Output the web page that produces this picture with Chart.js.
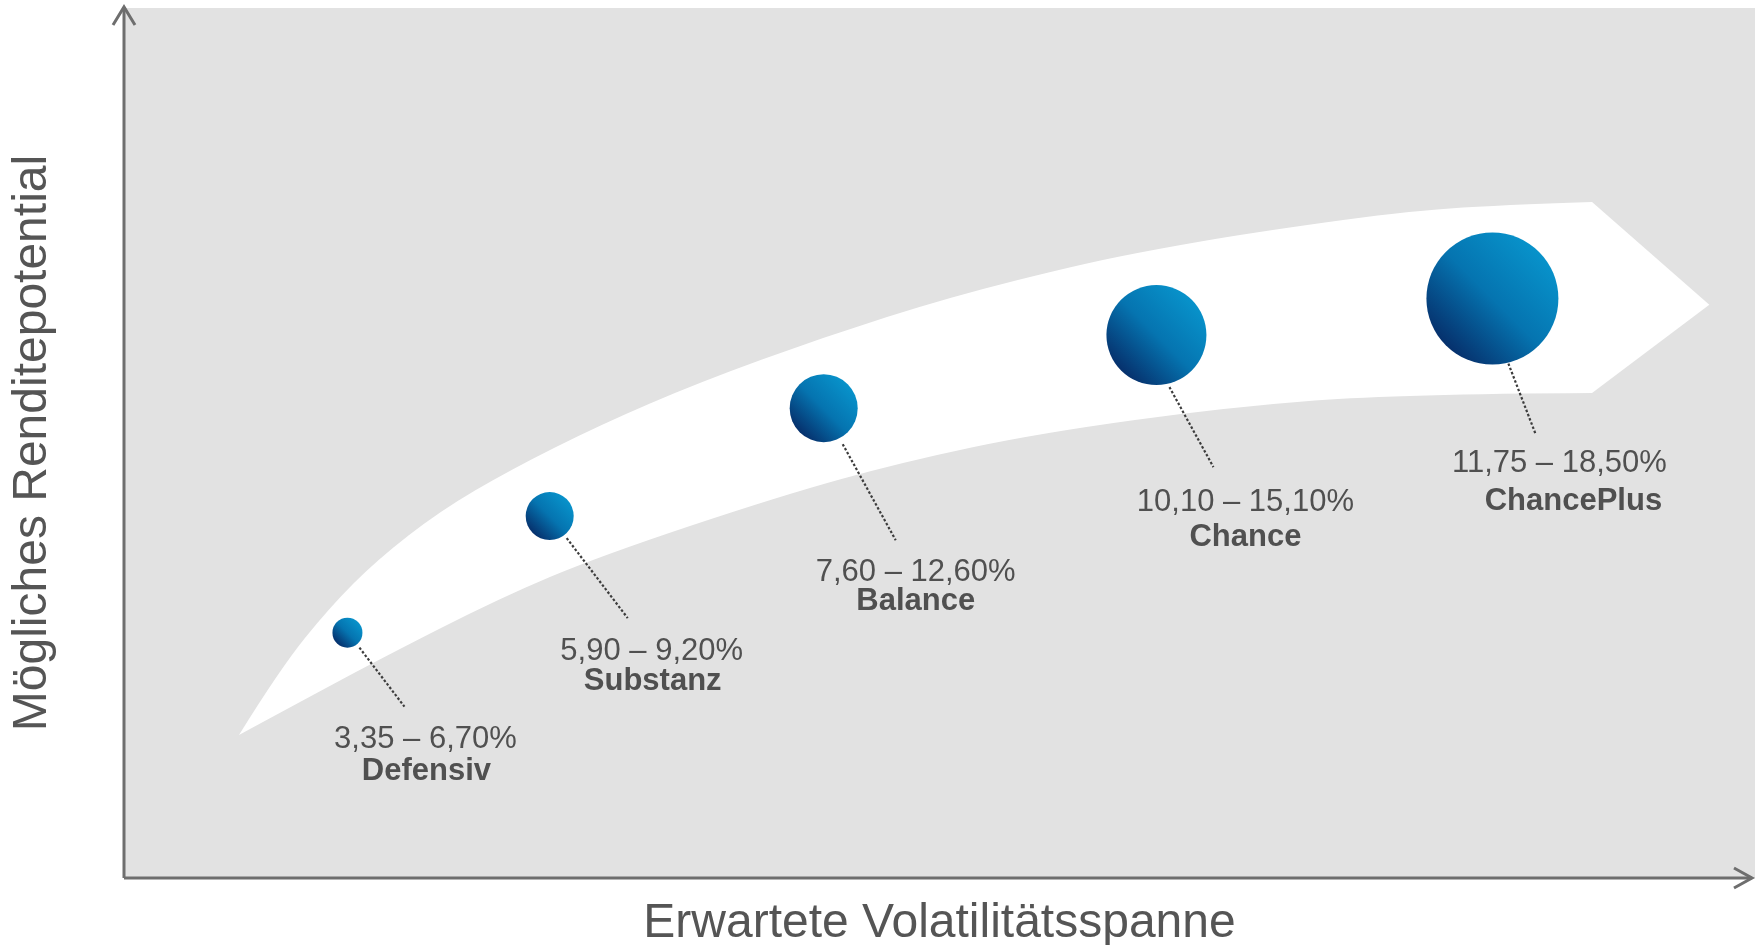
<!DOCTYPE html>
<html>
<head>
<meta charset="utf-8">
<script src="https://cdn.jsdelivr.net/npm/chart.js@4/dist/chart.umd.min.js"></script>
<style>
  html, body { margin: 0; padding: 0; background: #fff; }
  #wrap { width: 1760px; height: 945px; }
</style>
</head>
<body>
<div id="wrap"><canvas id="riskChart" width="1760" height="945"></canvas></div>
<script>
// data
const categories = ['Defensiv', 'Substanz', 'Balance', 'Chance', 'ChancePlus'];
const returnRanges = ['3,35 – 6,70%', '5,90 – 9,20%', '7,60 – 12,60%', '10,10 – 15,10%', '11,75 – 18,50%'];
const volatility = [13.7, 26.1, 42.9, 63.3, 83.9];
const potential = [28.2, 41.6, 54.0, 62.4, 66.6];
const bubbleSize = [15, 24, 34, 50, 66];

// white arrow band behind the bubbles, in axis units
const bandUpper = [[7.05, 16.44], [9.56, 24.02], [12.63, 31.15], [15.51, 36.55], [19.37, 42.18],
  [23.67, 46.9], [29.18, 52.07], [35.32, 57.01], [42.92, 62.18], [50.64, 66.78], [58.61, 70.52],
  [63.34, 72.3], [69.04, 74.14], [78.23, 76.55], [84.37, 77.36], [90.01, 77.7]];
const bandTip = [97.2, 65.9];
const bandLower = [[90.01, 55.75], [78.23, 55.63], [67.81, 54.14], [56.16, 51.15], [47.76, 47.82],
  [40.22, 43.91], [29.18, 37.01], [23.05, 32.18], [15.7, 25.17], [10.79, 20.23], [7.05, 16.44]];

// label placement relative to bubble centre (px): [rangeX, rangeY, nameX, nameY]
const labelPos = [[78, 115, 79, 147], [102, 144, 103, 174], [92, 173, 92, 202], [89, 176, 89, 211], [67, 173, 81, 211]];
// dotted leader start/end relative to bubble centre (px)
const leaderPos = [[12, 15, 57, 74], [17, 22, 78, 102], [19, 36, 72, 132], [13, 52, 57, 132], [16, 65, 43, 135]];

const textGray = '#505050';
const axisGray = '#6e6e6e';
const fontFam = '"Liberation Sans", Arial, sans-serif';

const bubbleData = categories.map((c, i) => ({ x: volatility[i], y: potential[i], r: bubbleSize[i] }));

function smoothTo(ctx, pts) {
  for (let i = 1; i < pts.length - 1; i++) {
    const mx = (pts[i][0] + pts[i + 1][0]) / 2;
    const my = (pts[i][1] + pts[i + 1][1]) / 2;
    if (i === pts.length - 2) ctx.quadraticCurveTo(pts[i][0], pts[i][1], pts[i + 1][0], pts[i + 1][1]);
    else ctx.quadraticCurveTo(pts[i][0], pts[i][1], mx, my);
  }
}

function bubbleGradient(ctx, cx, cy, r) {
  const d = r * 0.72;
  const g = ctx.createLinearGradient(cx - d, cy + d, cx + d, cy - d);
  g.addColorStop(0, '#062f6b');
  g.addColorStop(0.5, '#0574b0');
  g.addColorStop(1, '#0893cb');
  return g;
}

const backdrop = {
  id: 'backdrop',
  beforeDatasetsDraw(chart) {
    const { ctx, chartArea: a, scales: { x, y } } = chart;
    ctx.save();
    ctx.fillStyle = '#e2e2e2';
    ctx.fillRect(a.left, a.top, a.right - a.left, a.bottom - a.top);

    const px = p => [x.getPixelForValue(p[0]), y.getPixelForValue(p[1])];
    const up = bandUpper.map(px);
    const low = bandLower.map(px);
    const tip = px(bandTip);
    ctx.beginPath();
    ctx.moveTo(up[0][0], up[0][1]);
    smoothTo(ctx, up);
    ctx.lineTo(tip[0], tip[1]);
    ctx.lineTo(low[0][0], low[0][1]);
    smoothTo(ctx, low);
    ctx.closePath();
    ctx.fillStyle = '#ffffff';
    ctx.fill();
    ctx.restore();

    // give every bubble its own diagonal gradient
    chart.getDatasetMeta(0).data.forEach(el => {
      const r = el.options.radius;
      el.options = Object.assign({}, el.options, { backgroundColor: bubbleGradient(ctx, el.x, el.y, r) });
    });
  }
};

const annotations = {
  id: 'annotations',
  afterDatasetsDraw(chart) {
    const { ctx, scales: { x, y } } = chart;
    ctx.save();
    categories.forEach((name, i) => {
      const cx = x.getPixelForValue(volatility[i]);
      const cy = y.getPixelForValue(potential[i]);
      const l = leaderPos[i];
      ctx.beginPath();
      ctx.setLineDash([2.5, 2]);
      ctx.lineWidth = 2.2;
      ctx.strokeStyle = '#3c3c3c';
      ctx.moveTo(cx + l[0], cy + l[1]);
      ctx.lineTo(cx + l[2], cy + l[3]);
      ctx.stroke();
      ctx.setLineDash([]);

      const t = labelPos[i];
      ctx.fillStyle = textGray;
      ctx.textAlign = 'center';
      ctx.textBaseline = 'alphabetic';
      ctx.font = '31px ' + fontFam;
      ctx.fillText(returnRanges[i], cx + t[0], cy + t[1]);
      ctx.font = 'bold 31px ' + fontFam;
      ctx.fillText(name, cx + t[2], cy + t[3]);
    });
    ctx.restore();
  },
  afterDraw(chart) {
    const { ctx, chartArea: a } = chart;
    ctx.save();
    ctx.strokeStyle = axisGray;
    ctx.lineWidth = 3;
    ctx.beginPath();
    ctx.moveTo(a.left, a.bottom);
    ctx.lineTo(a.left, a.top - 1);
    ctx.moveTo(a.left, a.bottom);
    ctx.lineTo(a.right - 3, a.bottom);
    ctx.stroke();
    ctx.beginPath();
    ctx.moveTo(a.left - 11, a.top + 17);
    ctx.lineTo(a.left, a.top - 1);
    ctx.lineTo(a.left + 11, a.top + 17);
    ctx.moveTo(a.right - 21, a.bottom - 10);
    ctx.lineTo(a.right - 3, a.bottom);
    ctx.lineTo(a.right - 21, a.bottom + 10);
    ctx.stroke();
    ctx.restore();
  }
};

new Chart(document.getElementById('riskChart'), {
  type: 'bubble',
  data: {
    labels: categories,
    datasets: [{
      label: 'Strategien',
      data: bubbleData,
      backgroundColor: '#0574b0',
      borderWidth: 0,
      hoverBorderWidth: 0,
      hoverRadius: 0
    }]
  },
  options: {
    responsive: false,
    animation: false,
    events: [],
    layout: { autoPadding: false, padding: { left: 0, top: 8, right: 5, bottom: 0 } },
    plugins: { legend: { display: false }, tooltip: { enabled: false } },
    scales: {
      x: {
        type: 'linear', min: 0, max: 100,
        ticks: { display: false },
        grid: { display: false, drawTicks: false },
        border: { display: false },
        title: {
          display: true,
          text: 'Erwartete Volatilitätsspanne',
          color: '#555555',
          font: { family: fontFam, size: 48, lineHeight: 0.8 },
          padding: { top: 26.8, bottom: 1.8 }
        }
      },
      y: {
        type: 'linear', min: 0, max: 100,
        ticks: { display: false },
        grid: { display: false, drawTicks: false },
        border: { display: false },
        title: {
          display: true,
          text: 'Mögliches Renditepotential',
          color: '#555555',
          font: { family: fontFam, size: 48, lineHeight: 0.8 },
          padding: { top: 13.8, bottom: 71.8 }
        }
      }
    }
  },
  plugins: [backdrop, annotations]
});
</script>
</body>
</html>
